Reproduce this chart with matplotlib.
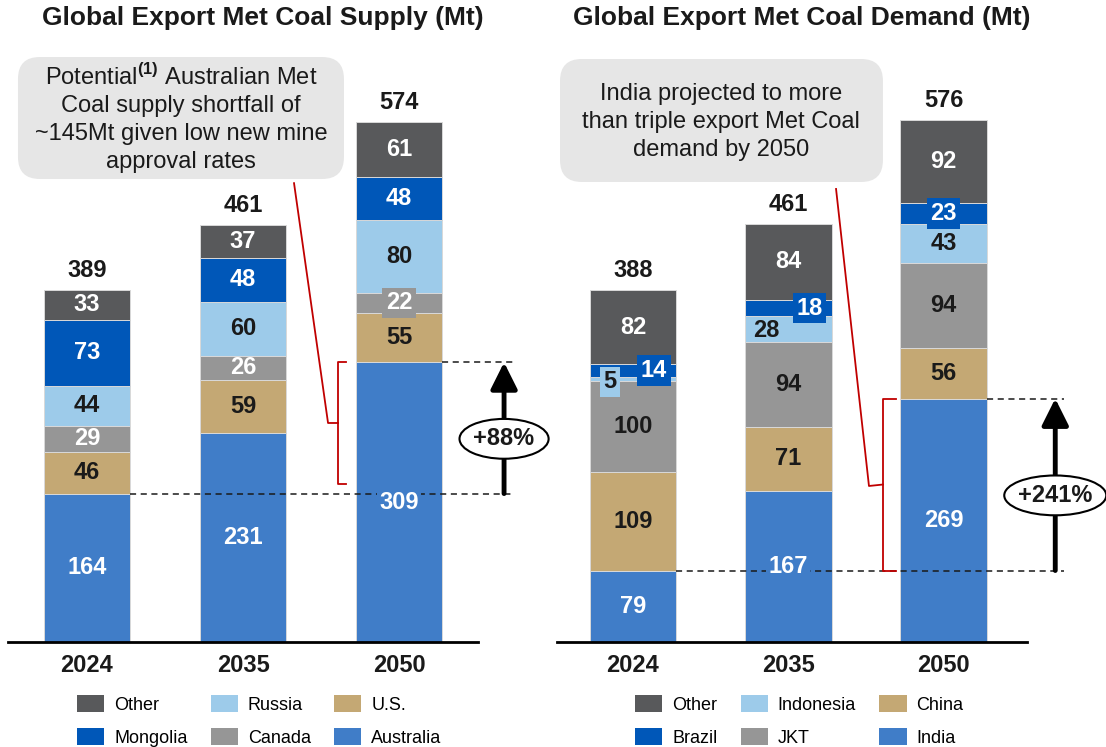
import numpy as np
import matplotlib
matplotlib.use("Agg")
import matplotlib.pyplot as plt
from matplotlib.patches import Ellipse, FancyBboxPatch, Patch

plt.rcParams['font.family'] = ['Liberation Sans', 'DejaVu Sans']
plt.rcParams['mathtext.fontset'] = 'custom'
plt.rcParams['mathtext.rm'] = 'Liberation Sans'
plt.rcParams['mathtext.bf'] = 'Liberation Sans:bold'

years = ['2024', '2035', '2050']

# supply (Mt), stacked bottom -> top
supply_names = ['Australia', 'U.S.', 'Canada', 'Russia', 'Mongolia', 'Other']
australia = [164, 231, 309]
us = [46, 59, 55]
canada = [29, 26, 22]
russia = [44, 60, 80]
mongolia = [73, 48, 48]
other_supply = [33, 37, 61]
supply_totals = [389, 461, 574]

# demand (Mt), stacked bottom -> top
demand_names = ['India', 'China', 'JKT', 'Indonesia', 'Brazil', 'Other']
india = [79, 167, 269]
china = [109, 71, 56]
jkt = [100, 94, 94]
indonesia = [5, 28, 43]
brazil = [14, 18, 23]
other_demand = [82, 84, 92]
demand_totals = [388, 461, 576]

colors = ['#407DC8', '#C4A874', '#969696', '#9DCBEA', '#0057B8', '#58595B']
DARK = '#1a1a1a'
supply_txt = ['white', DARK, 'white', DARK, 'white', 'white']
demand_txt = ['white', DARK, DARK, DARK, 'white', 'white']

W, H = 1106, 747
SY = 0.905  # px per Mt
fig = plt.figure(figsize=(W / 100, H / 100), dpi=100)


def make_ax(left_px, xmin, xmax):
    ax = fig.add_axes([left_px / W, 1 - 642 / H, 470 / W, 602 / H])
    ax.set_xlim(xmin, xmax)
    ax.set_ylim(0, 602 / SY)
    for s in ['left', 'right', 'top']:
        ax.spines[s].set_visible(False)
    ax.spines['bottom'].set_linewidth(2)
    ax.spines['bottom'].set_color('black')
    ax.set_yticks([])
    ax.set_xticks(range(3))
    ax.set_xticklabels(years, fontsize=17, fontweight='bold', color=DARK)
    ax.tick_params(axis='x', length=0, pad=9)
    return ax


def draw_stack(ax, series, names, txtcols, totals, width, shifts, boxed):
    x = np.arange(3)
    bottom = np.zeros(3)
    for k, (vals, name) in enumerate(zip(series, names)):
        vals = np.array(vals, dtype=float)
        ax.bar(x, vals, width, bottom=bottom, color=colors[k],
               edgecolor='#d9d9d9', linewidth=0.7, zorder=2)
        for i in range(3):
            dx, dy = shifts.get((name, i), (0, 0))
            bb = None
            if (name, i) in boxed:
                bb = dict(boxstyle='square,pad=0.15', fc=colors[k], ec='none')
            elif k == 0:
                bb = dict(boxstyle='square,pad=0.1', fc=colors[k], ec='none')
            ax.text(x[i] + dx, bottom[i] + vals[i] / 2 + dy, f'{int(vals[i])}',
                    ha='center', va='center', fontsize=17, fontweight='bold',
                    color=txtcols[k], bbox=bb, zorder=5)
        bottom += vals
    for i in range(3):
        ax.annotate(str(totals[i]), (x[i], bottom[i]), xytext=(0, 14),
                    textcoords='offset points', ha='center', va='center',
                    fontsize=17, fontweight='bold', color=DARK)
    return bottom


def growth(ax, x_left_bar, x_right_bar, lo, hi, half_w, x_end, x_arrow, e_w, label):
    for xs, v in [(x_left_bar + half_w, lo), (x_right_bar + half_w, hi)]:
        ax.plot([xs, x_end], [v, v], ls=(0, (4, 3)), color=DARK, lw=1.1,
                clip_on=False, zorder=3)
    ax.annotate('', xy=(x_arrow, hi), xytext=(x_arrow, lo),
                arrowprops=dict(arrowstyle='-|>,head_length=0.9,head_width=0.45',
                                lw=3.5, color='black', shrinkA=0, shrinkB=0,
                                mutation_scale=18),
                annotation_clip=False, zorder=4)
    yc = (lo + hi) / 2 - 12
    ax.add_patch(Ellipse((x_arrow, yc), e_w, 44, fc='white', ec='black',
                         lw=1.5, clip_on=False, zorder=5))
    ax.text(x_arrow, yc, label, ha='center', va='center', fontsize=17,
            fontweight='bold', color=DARK, zorder=6, clip_on=False)


def callout(ax, x0, x1, y0, y1, sx, text, tx, ty, leader, bx, b_lo, b_hi, tick_x):
    ax.add_patch(FancyBboxPatch((x0, y0), x1 - x0, y1 - y0,
                                boxstyle='round,pad=0,rounding_size=0.14',
                                mutation_aspect=sx / SY, fc='#E6E6E6', ec='none',
                                clip_on=False, zorder=6))
    ax.text(tx, ty, text, ha='center', va='center', fontsize=17,
            linespacing=1.33, color=DARK, zorder=7, clip_on=False)
    lx = [p[0] for p in leader] + [bx]
    ly = [p[1] for p in leader] + [(b_lo + b_hi) / 2]
    ax.plot(lx, ly, color='#C00000', lw=1.3, clip_on=False, zorder=3)
    ax.plot([tick_x, bx, bx, tick_x], [b_hi, b_hi, b_lo, b_lo],
            color='#C00000', lw=1.3, clip_on=False, zorder=3)


# ---- supply panel
ax1 = make_ax(8, -0.506, 2.506)
sup = [australia, us, canada, russia, mongolia, other_supply]
draw_stack(ax1, sup, supply_names, supply_txt, supply_totals, 0.555,
           {}, {('Canada', 2)})
growth(ax1, 0, 2, australia[0], australia[2], 0.2775, 2.744, 2.673, 0.571, '+88%')
callout(ax1, -0.442, 1.647, 511.6, 646.4, 156,
        'Potential$^{\\mathbf{(1)}}$ Australian Met\nCoal supply shortfall of\n'
        '~145Mt given low new mine\napproval rates',
        0.603, 579, [(1.327, 507), (1.545, 242)], 1.609, 175, australia[2], 1.660)

# ---- demand panel
ax2 = make_ax(557, -0.4895, 2.538)
dem = [india, china, jkt, indonesia, brazil, other_demand]
shifts = {('Indonesia', 0): (-0.148, -3), ('Brazil', 0): (0.135, 0),
          ('Indonesia', 1): (-0.139, -2), ('Brazil', 1): (0.139, 0)}
draw_stack(ax2, dem, demand_names, demand_txt, demand_totals, 0.56,
           shifts, {('Indonesia', 0), ('Brazil', 0), ('Brazil', 1), ('Brazil', 2)})
growth(ax2, 0, 2, india[0], india[2], 0.28, 2.776, 2.72, 0.657, '+241%')
callout(ax2, -0.470, 1.610, 508.3, 644.2, 155.25,
        'India projected to more\nthan triple export Met Coal\ndemand by 2050',
        0.567, 574.6, [(1.308, 500.6), (1.520, 172.4)], 1.610, india[0], india[2], 1.694)

# titles
fig.text(263 / W, 1 - 18 / H, 'Global Export Met Coal Supply (Mt)', ha='center',
         va='center', fontsize=19, fontweight='bold', color=DARK)
fig.text(802 / W, 1 - 18 / H, 'Global Export Met Coal Demand (Mt)', ha='center',
         va='center', fontsize=19, fontweight='bold', color=DARK)

# legends
for names, left in [(supply_names, 77), (demand_names, 635)]:
    handles = [Patch(fc=c, ec='none', label=n) for c, n in zip(colors, names)][::-1]
    fig.legend(handles=handles, ncol=3, loc='upper left',
               bbox_to_anchor=(left / W, 1 - 695 / H), frameon=False,
               fontsize=13, handlelength=1.5, handleheight=1.1,
               handletextpad=0.55, columnspacing=1.3, labelspacing=0.78,
               borderpad=0, borderaxespad=0)

fig.savefig('out.png', dpi=100)
